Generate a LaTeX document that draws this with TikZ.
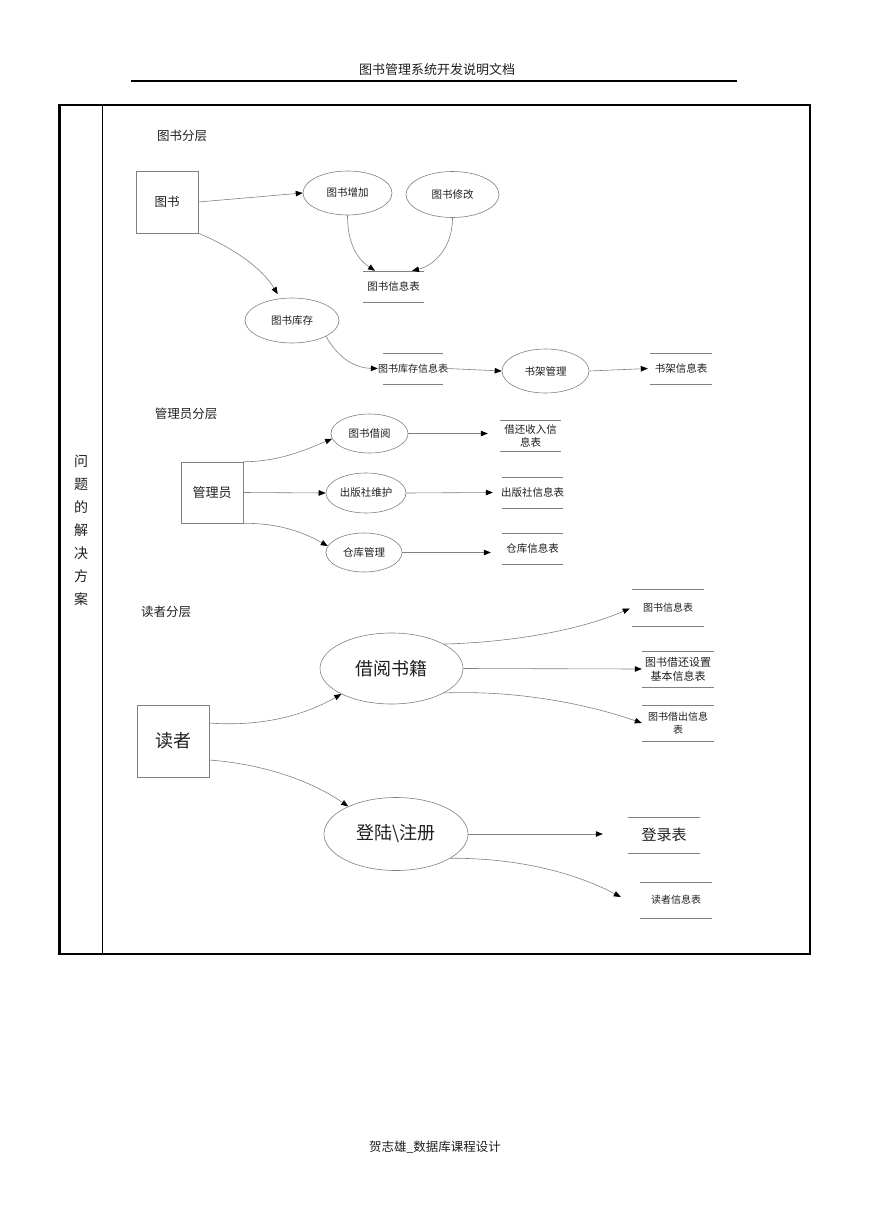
\documentclass[tikz,border=0pt]{standalone}
\usepackage{fontspec}
\setmainfont{Noto Sans CJK SC}
\usetikzlibrary{arrows.meta,shapes.geometric}
\definecolor{linegray}{gray}{0.5}
\definecolor{txt}{gray}{0.12}
\begin{document}
\begin{tikzpicture}[x=1pt,y=-1pt,
  gline/.style={draw=linegray, line width=0.6pt},
  flow/.style={gline, -{Triangle[length=7pt,width=5.5pt,color=black]}},
  proc/.style={ellipse, draw=linegray, line width=0.6pt, inner sep=0pt, text=txt, font=\fontsize{10.5}{12}\selectfont},
  ext/.style={rectangle, draw=linegray, line width=0.6pt, inner sep=0pt, text=txt},
  store/.style={rectangle, inner sep=0pt, align=center, text=txt, font=\fontsize{10.5}{13}\selectfont,
    append after command={
      (\tikzlastnode.north west) edge[gline] (\tikzlastnode.north east)
      (\tikzlastnode.south west) edge[gline] (\tikzlastnode.south east)}},
  lbl/.style={text=txt, inner sep=0pt, font=\fontsize{12.5}{14}\selectfont},
  big/.style={font=\fontsize{18}{20}\selectfont}
]
\useasboundingbox (0,0) rectangle (869,1228);

% header / footer
\node[lbl, font=\fontsize{13}{15}\selectfont] (hdr) at (437,70) {图书管理系统开发说明文档};
\draw[line width=1.2pt] (131,81) -- (737,81);
\node[lbl, font=\fontsize{12.5}{15}\selectfont] (foot) at (435,1147) {贺志雄\_数据库课程设计};

% table frame
\draw[line width=1.8pt] (59,105) rectangle (810,954);
\draw[line width=3pt] (59,104) -- (59,955);
\draw[line width=0.8pt] (102,105) -- (102,954);
\node[lbl, align=center, font=\fontsize{14}{23}\selectfont] (side) at (81,530) {问\\题\\的\\解\\决\\方\\案};

% ---------- section 1 ----------
\node[lbl] (lbl1) at (182,136) {图书分层};
\node[ext, minimum width=62, minimum height=62, font=\fontsize{12.5}{14}\selectfont] (tushu) at (167,202) {图书};
\node[proc, minimum width=89, minimum height=44] (zengjia) at (347.5,193) {图书增加};
\node[proc, minimum width=93, minimum height=46] (xiugai) at (452.5,194.5) {图书修改};
\node[store, minimum width=61, minimum height=31] (tsxx) at (393.5,286.5) {图书信息表};
\node[proc, minimum width=94, minimum height=45] (kucun) at (292,320.5) {图书库存};
\node[store, minimum width=60, minimum height=31, font=\fontsize{10}{12}\selectfont] (kcxx) at (413,368.5) {\makebox[60pt]{图书库存信息表}};
\node[proc, minimum width=87, minimum height=44] (shujia) at (545.5,371) {书架管理};
\node[store, minimum width=62, minimum height=31] (sjxx) at (681,368.5) {书架信息表};

\draw[flow] (tushu.east) -- (zengjia.west);
\draw[flow] (zengjia.south) .. controls (347.5,250) and (362,262) .. ([xshift=-18.5pt]tsxx.north);
\draw[flow] (xiugai.south) .. controls (452.5,250) and (432,266) .. ([xshift=18.5pt]tsxx.north);
\draw[flow, shorten >=5pt] (tushu.south east) .. controls (232,247) and (262,268) .. (kucun.118);
\draw[flow] (kucun.-25) .. controls (338,358) and (355,368) .. ([xshift=-5pt]kcxx.west);
\draw[flow] ([xshift=4pt]kcxx.east) -- (shujia.west);
\draw[flow] (shujia.east) -- ([xshift=-2pt]sjxx.west);

% ---------- section 2 ----------
\node[lbl] (lbl2) at (186,414) {管理员分层};
\node[ext, minimum width=62, minimum height=61, font=\fontsize{13}{14}\selectfont] (gly) at (212,492.5) {管理员};
\node[proc, minimum width=77, minimum height=39] (jieyue) at (369.5,433.5) {图书借阅};
\node[proc, minimum width=80, minimum height=40] (chuban) at (366,493) {出版社维护};
\node[proc, minimum width=76, minimum height=39] (cangku) at (364,552.5) {仓库管理};
\node[store, minimum width=61, minimum height=31] (jhxx) at (530.5,435.5) {借还收入信\\息表};
\node[store, minimum width=61, minimum height=31] (cbxx) at (532.5,492.5) {\makebox[61pt]{出版社信息表}};
\node[store, minimum width=61, minimum height=31] (ckxx) at (532.5,548.5) {仓库信息表};

\draw[flow] (gly.north east) .. controls (280,462) and (310,448) .. (jieyue.188);
\draw[flow] (gly.east) -- (chuban.west);
\draw[flow] (gly.south east) .. controls (280,523) and (305,533) .. (cangku.170);
\draw[flow] (jieyue.east) -- ([xshift=-12pt,yshift=2pt]jhxx.west);
\draw[flow] (chuban.east) -- ([xshift=-9pt]cbxx.west);
\draw[flow] (cangku.east) -- ([xshift=-11pt,yshift=-4pt]ckxx.west);

% ---------- section 3 ----------
\node[lbl] (lbl3) at (166,612) {读者分层};
\node[ext, minimum width=72, minimum height=72, big] (duzhe) at (173,741) {读者};
\node[proc, minimum width=143, minimum height=71, big] (jyshu) at (391.5,668.5) {借阅书籍};
\node[proc, minimum width=144, minimum height=73, big] (denglu) at (396,834) {登陆\textbackslash 注册};
\node[store, minimum width=72, minimum height=37, font=\fontsize{10}{12}\selectfont] (tsxx2) at (668,607.5) {图书信息表};
\node[store, minimum width=72, minimum height=36, font=\fontsize{11}{14}\selectfont] (jhsz) at (678,669) {图书借还设置\\基本信息表};
\node[store, minimum width=72, minimum height=36, font=\fontsize{10}{12.5}\selectfont] (jcxx) at (678,723) {图书借出信息\\表};
\node[store, minimum width=72, minimum height=36, font=\fontsize{15}{17}\selectfont] (dlb) at (664,835) {登录表};
\node[store, minimum width=72, minimum height=36, font=\fontsize{10}{12}\selectfont] (dzxx) at (676,900) {读者信息表};

\draw[flow] ([yshift=18pt]duzhe.east) .. controls (262,727) and (305,715) .. (jyshu.207);
\draw[flow] ([yshift=-19pt]duzhe.east) .. controls (262,764) and (310,780) .. (denglu.150);
\draw[flow] (jyshu.25) .. controls (520,642) and (585,628) .. ([xshift=-2pt,yshift=-1pt]tsxx2.west);
\draw[flow] (jyshu.east) -- (jhsz.west);
\draw[flow] (jyshu.-25) .. controls (520,690) and (590,705) .. (jcxx.west);
\draw[flow] (denglu.east) -- ([xshift=-25pt,yshift=1pt]dlb.west);
\draw[flow] (denglu.-24) .. controls (530,858) and (585,878) .. ([xshift=-19pt,yshift=3pt]dzxx.west);
\end{tikzpicture}
\end{document}
